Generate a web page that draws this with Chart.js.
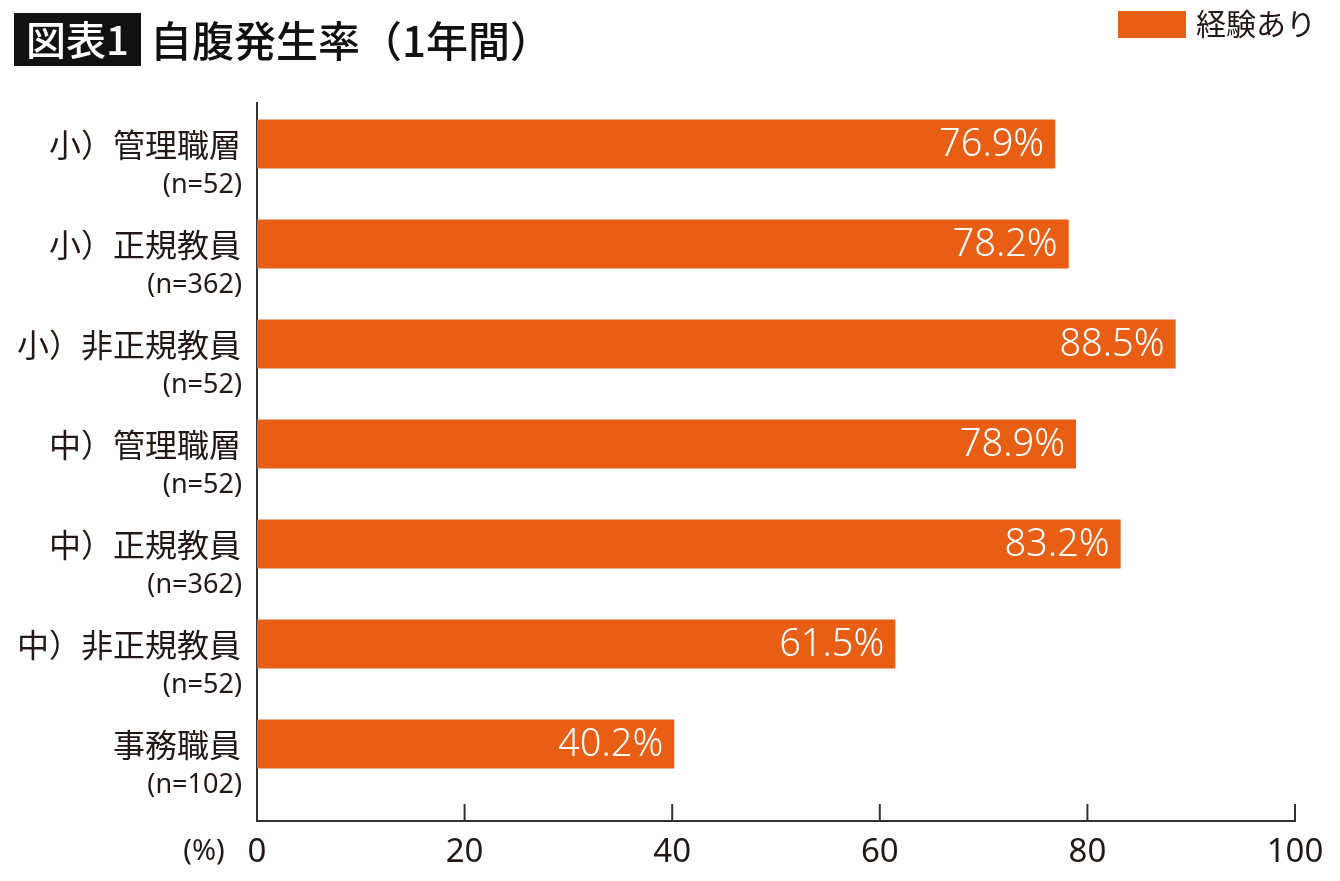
<!DOCTYPE html>
<html lang="ja">
<head>
<meta charset="utf-8">
<script src="https://cdn.jsdelivr.net/npm/chart.js@4.4.1/dist/chart.umd.min.js"></script>
<style>
  html, body { margin: 0; padding: 0; background: #fff; }
  #wrap { position: relative; width: 1340px; height: 881px; }
</style>
</head>
<body>
<div id="wrap"><canvas id="c"></canvas></div>
<script>
const categories = ['小）管理職層', '小）正規教員', '小）非正規教員', '中）管理職層', '中）正規教員', '中）非正規教員', '事務職員'];
const sampleSizes = ['(n=52)', '(n=362)', '(n=52)', '(n=52)', '(n=362)', '(n=52)', '(n=102)'];
const experienced = [76.9, 78.2, 88.5, 78.9, 83.2, 61.5, 40.2];
const xTicks = [0, 20, 40, 60, 80, 100];
const seriesLabel = '経験あり';
const titleBadge = '図表1';
const titleText = '自腹発生率（1年間）';
const unitLabel = '(%)';

const ORANGE = '#E95E15';
const INK = '#231815';
const LATIN = '"Noto Sans", "Noto Sans CJK JP", sans-serif';
const CJK = '"Noto Sans CJK JP", "Noto Sans", sans-serif';

const decorPlugin = {
  id: 'decor',
  afterDraw(chart) {
    const ctx = chart.ctx;
    const xs = chart.scales.x, ys = chart.scales.y;
    const area = chart.chartArea;
    ctx.save();
    // title badge
    ctx.fillStyle = '#111';
    ctx.fillRect(14, 13, 127, 53);
    ctx.fillStyle = '#fff';
    ctx.font = '500 40px ' + CJK;
    ctx.textAlign = 'center';
    ctx.textBaseline = 'middle';
    ctx.fillText(titleBadge, 77.5, 40);
    ctx.fillStyle = '#111';
    ctx.textAlign = 'left';
    ctx.font = '500 42px ' + CJK;
    ctx.fillText(titleText, 150, 41);

    // legend
    ctx.fillStyle = ORANGE;
    ctx.fillRect(1118, 11, 68, 27);
    ctx.fillStyle = INK;
    ctx.font = '30px ' + CJK;
    ctx.textAlign = 'left';
    ctx.textBaseline = 'middle';
    ctx.fillText(chart.data.datasets[0].label, 1196, 24);

    // upward tick marks on x axis
    ctx.strokeStyle = '#333';
    ctx.lineWidth = 2;
    xs.ticks.forEach(t => {
      const px = xs.getPixelForValue(t.value);
      ctx.beginPath();
      ctx.moveTo(px, area.bottom);
      ctx.lineTo(px, area.bottom - 17);
      ctx.stroke();
    });

    // unit label
    ctx.fillStyle = INK;
    ctx.font = '29px ' + LATIN;
    ctx.textAlign = 'center';
    ctx.textBaseline = 'middle';
    ctx.fillText(unitLabel, 204, 852);

    // category labels
    ctx.textAlign = 'right';
    categories.forEach((c, i) => {
      const py = ys.getPixelForValue(i);
      ctx.font = '32px ' + CJK;
      ctx.fillText(c, 241, py + 1);
      ctx.font = '27px ' + LATIN;
      ctx.fillText(sampleSizes[i], 242, py + 41);
    });

    // value labels inside bars
    const meta = chart.getDatasetMeta(0);
    ctx.fillStyle = '#fff';
    ctx.font = '300 38px ' + LATIN;
    ctx.textAlign = 'right';
    meta.data.forEach((bar, i) => {
      ctx.fillText(experienced[i].toFixed(1) + '%', bar.x - 11, bar.y + 1);
    });
    ctx.restore();
  }
};

new Chart(document.getElementById('c'), {
  type: 'bar',
  data: {
    datasets: [{
      label: seriesLabel,
      data: experienced.map((v, i) => ({ x: v, y: i })),
      backgroundColor: ORANGE,
      borderWidth: 0,
      barPercentage: 0.7,
      categoryPercentage: 0.7
    }]
  },
  options: {
    indexAxis: 'y',
    responsive: true,
    maintainAspectRatio: false,
    animation: false,
    layout: { padding: { top: 103, right: 45, bottom: 0, left: 0 } },
    plugins: {
      legend: { display: false },
      tooltip: { enabled: false },
      title: { display: false }
    },
    scales: {
      x: {
        type: 'linear',
        position: 'bottom',
        min: 0,
        max: 100,
        afterBuildTicks: s => { s.ticks = xTicks.map(v => ({ value: v })); },
        afterFit: s => { s.height = 60; },
        ticks: {
          color: INK,
          font: { family: LATIN, size: 33 },
          padding: 12
        },
        grid: { display: false, drawTicks: false },
        border: { display: true, color: '#333', width: 2 }
      },
      y: {
        type: 'linear',
        reverse: true,
        offset: false,
        min: -0.41,
        max: 6.77,
        afterBuildTicks: s => { s.ticks = categories.map((_, i) => ({ value: i })); },
        afterFit: s => { s.width = 257; },
        ticks: { display: false },
        grid: { display: false, drawTicks: false, offset: false },
        border: { display: true, color: '#333', width: 2 }
      }
    }
  },
  plugins: [decorPlugin]
});
</script>
</body>
</html>
